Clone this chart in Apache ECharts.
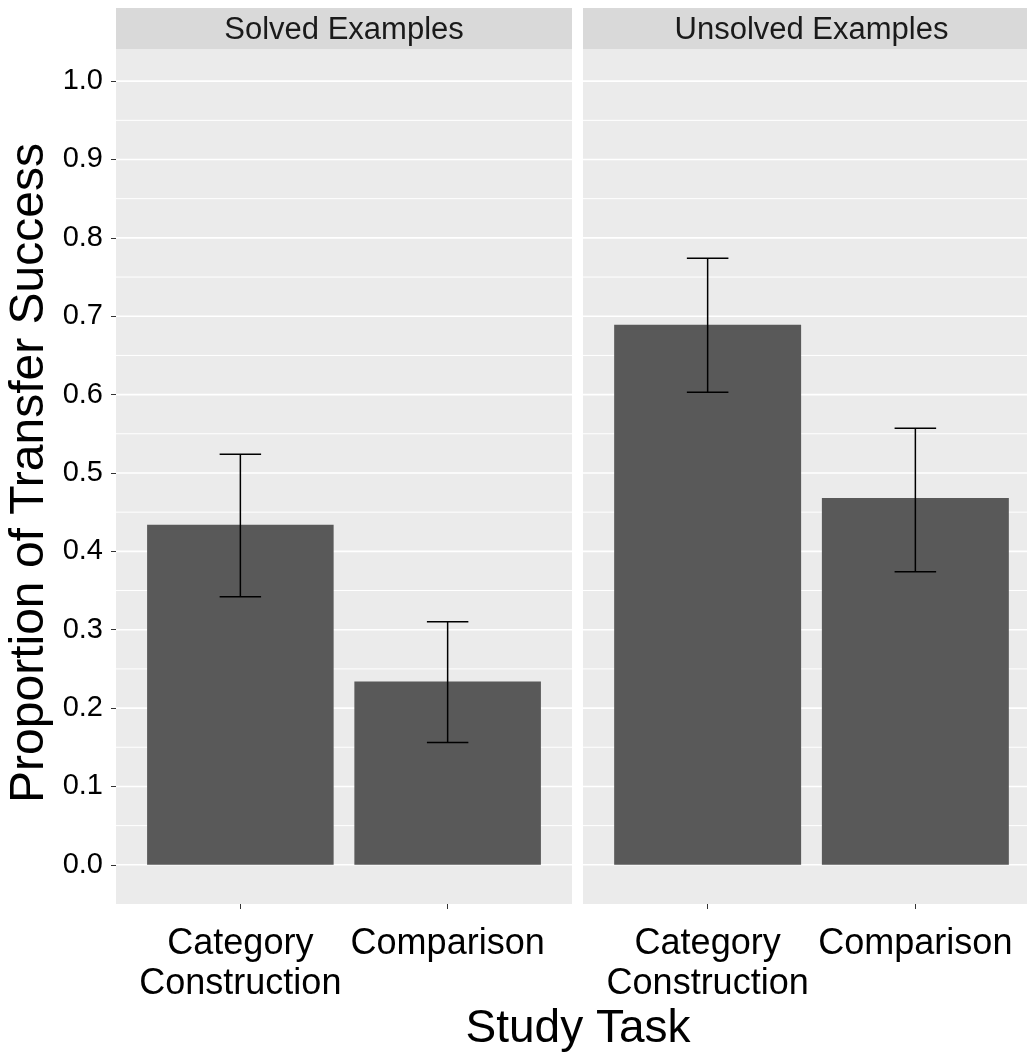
<!DOCTYPE html>
<html>
<head>
<meta charset="utf-8">
<script src="https://cdn.jsdelivr.net/npm/echarts@6/dist/echarts.min.js"></script>
<style>
  html, body { margin: 0; padding: 0; background: #fff; }
  #chart { width: 1027px; height: 1055px; }
</style>
</head>
<body>
<div id="chart"></div>
<script>
// facets and categories
const panels = ['Solved Examples', 'Unsolved Examples'];
const tasks = ['Category\nConstruction', 'Comparison'];

// proportions and error bar ends, one array per facet
const solvedMeans = [0.434, 0.234];
const solvedLower = [0.342, 0.156];
const solvedUpper = [0.524, 0.310];
const unsolvedMeans = [0.689, 0.468];
const unsolvedLower = [0.603, 0.374];
const unsolvedUpper = [0.774, 0.557];

// axis breaks
const yTicks = [0, 0.1, 0.2, 0.3, 0.4, 0.5, 0.6, 0.7, 0.8, 0.9, 1.0];
const yMinor = [0.05, 0.15, 0.25, 0.35, 0.45, 0.55, 0.65, 0.75, 0.85, 0.95];
const xTicks = [1, 2];

const FONT = 'Liberation Sans, Arial, sans-serif';
const chart = echarts.init(document.getElementById('chart'));

function renderGrid(width) {
  return function (params, api) {
    const cs = params.coordSys;
    const y = api.coord([1, api.value(0)])[1];
    return {
      type: 'line',
      shape: { x1: cs.x, y1: y, x2: cs.x + cs.width, y2: y },
      style: { stroke: '#ffffff', lineWidth: width }
    };
  };
}

function renderBar(params, api) {
  const x = api.value(0), v = api.value(1);
  const p0 = api.coord([x - 0.45, v]);
  const p1 = api.coord([x + 0.45, 0]);
  return {
    type: 'rect',
    shape: { x: p0[0], y: p0[1], width: p1[0] - p0[0], height: p1[1] - p0[1] },
    style: { fill: '#595959' }
  };
}

function renderErr(params, api) {
  const x = api.value(0);
  const lo = api.coord([x, api.value(1)]);
  const hi = api.coord([x, api.value(2)]);
  const half = (api.coord([x + 0.1, 0])[0] - api.coord([x - 0.1, 0])[0]) / 2;
  const st = { stroke: '#000', lineWidth: 1.5 };
  return {
    type: 'group',
    children: [
      { type: 'line', shape: { x1: lo[0], y1: lo[1], x2: hi[0], y2: hi[1] }, style: st },
      { type: 'line', shape: { x1: hi[0] - half, y1: hi[1], x2: hi[0] + half, y2: hi[1] }, style: st },
      { type: 'line', shape: { x1: lo[0] - half, y1: lo[1], x2: lo[0] + half, y2: lo[1] }, style: st }
    ]
  };
}

const grids = [
  { left: 116, top: 49, width: 456, height: 855, outerBoundsMode: 'none' },
  { left: 583, top: 49, width: 457, height: 855, outerBoundsMode: 'none' }
];

const xAxes = grids.map((g, i) => ({
  type: 'value', gridIndex: i, min: 0.4, max: 2.6,
  axisLine: { show: false, onZero: false },
  splitLine: { show: false },
  axisTick: { show: true, length: 5, customValues: xTicks, lineStyle: { color: '#333', width: 1 } },
  axisLabel: {
    customValues: xTicks, margin: 20,
    fontFamily: FONT, fontSize: 36, lineHeight: 40, color: '#000',
    formatter: v => tasks[Math.round(v) - 1]
  }
}));

const yAxes = grids.map((g, i) => ({
  type: 'value', gridIndex: i, min: -0.05, max: 1.041,
  axisLine: { show: false },
  splitLine: { show: false },
  axisTick: { show: i === 0, length: 5, customValues: yTicks, lineStyle: { color: '#333', width: 1 } },
  axisLabel: {
    show: i === 0, customValues: yTicks, margin: 13,
    fontFamily: FONT, fontSize: 29, color: '#000',
    formatter: v => v.toFixed(1)
  }
}));

const facetData = [
  { means: solvedMeans, lower: solvedLower, upper: solvedUpper },
  { means: unsolvedMeans, lower: unsolvedLower, upper: unsolvedUpper }
];

const series = [];
facetData.forEach((f, i) => {
  series.push({
    type: 'custom', xAxisIndex: i, yAxisIndex: i, z: 1, silent: true,
    renderItem: renderGrid(1), data: yMinor.map(v => [v])
  });
  series.push({
    type: 'custom', xAxisIndex: i, yAxisIndex: i, z: 1, silent: true,
    renderItem: renderGrid(1.6), data: yTicks.map(v => [v])
  });
  series.push({
    type: 'custom', xAxisIndex: i, yAxisIndex: i, z: 2,
    renderItem: renderBar,
    data: f.means.map((m, k) => [xTicks[k], m])
  });
  series.push({
    type: 'custom', xAxisIndex: i, yAxisIndex: i, z: 3,
    renderItem: renderErr,
    data: f.means.map((m, k) => [xTicks[k], f.lower[k], f.upper[k]])
  });
});

const graphics = [];
grids.forEach((g, i) => {
  graphics.push({
    type: 'rect', z: -10,
    shape: { x: g.left, y: g.top, width: g.width, height: g.height },
    style: { fill: '#EBEBEB' }
  });
  graphics.push({
    type: 'rect', z: -10,
    shape: { x: g.left, y: 8, width: g.width, height: 41 },
    style: { fill: '#D9D9D9' }
  });
  graphics.push({
    type: 'text', z: 10,
    x: g.left + g.width / 2, y: 30,
    style: {
      text: panels[i], font: '31px ' + FONT, fill: '#1A1A1A',
      textAlign: 'center', textVerticalAlign: 'middle'
    }
  });
});
graphics.push({
  type: 'text', x: 578, y: 1029,
  style: {
    text: 'Study Task', font: '46px ' + FONT, fill: '#000',
    textAlign: 'center', textVerticalAlign: 'middle'
  }
});
graphics.push({
  type: 'text', x: 30, y: 473, rotation: Math.PI / 2,
  style: {
    text: 'Proportion of Transfer Success', font: '48px ' + FONT, fill: '#000',
    textAlign: 'center', textVerticalAlign: 'middle'
  }
});

chart.setOption({
  animation: false,
  backgroundColor: '#fff',
  textStyle: { fontFamily: FONT },
  grid: grids,
  xAxis: xAxes,
  yAxis: yAxes,
  series: series,
  graphic: graphics
});
</script>
</body>
</html>
